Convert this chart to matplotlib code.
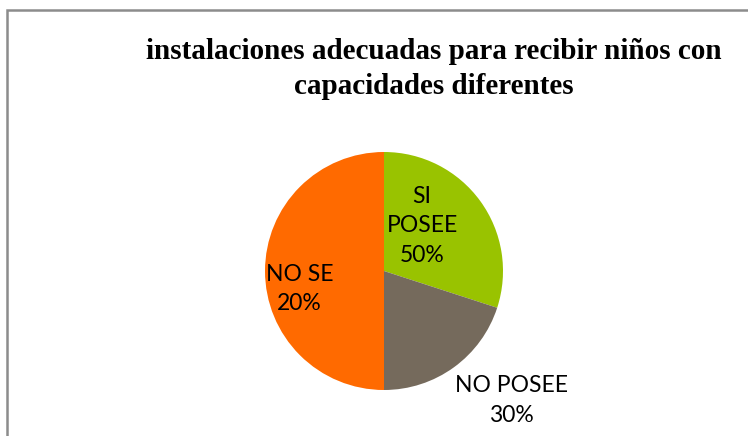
import matplotlib
matplotlib.use("Agg")
import matplotlib.pyplot as plt
from matplotlib.patches import Rectangle

categories = ["SI POSEE", "NO POSEE", "NO SE"]
values = [30, 20, 50]
label_texts = ["SI\nPOSEE\n50%", "NO POSEE\n30%", "NO SE\n20%"]
colors = ["#99C300", "#756A5C", "#FF6A00"]
title = "instalaciones adecuadas para recibir niños con\ncapacidades diferentes"

W, H = 748, 436
fig = plt.figure(figsize=(W / 100, H / 100), dpi=100)
fig.patch.set_facecolor("white")

# chart frame
fig.patches.append(Rectangle((7 / W, -0.1), 1.2, (H - 10) / H + 0.1,
                             transform=fig.transFigure, fill=False,
                             edgecolor="#8c8c8c", linewidth=1.8))

cx, cy, r = 384, 271, 119
ax = fig.add_axes([(cx - r) / W, (H - cy - r) / H, 2 * r / W, 2 * r / H])
ax.pie(values, colors=colors, startangle=90, counterclock=False, radius=1,
       wedgeprops=dict(linewidth=0))
ax.set_xlim(-1, 1)
ax.set_ylim(-1, 1)
ax.set_aspect("equal")
ax.axis("off")

label_pos = [(0.32, 0.38), (1.07, -1.09), (-0.71, -0.15)]
for txt, (x, y) in zip(label_texts, label_pos):
    ax.text(x, y, txt, ha="center", va="center", fontsize=16.5,
            family="Lato", linespacing=1.5, clip_on=False, color="black")

fig.text(434 / W, 1 - 69 / H, title, ha="center", va="center",
         fontsize=21, fontweight="bold", family="Liberation Serif",
         linespacing=1.35)

fig.savefig("out.png", dpi=100)
